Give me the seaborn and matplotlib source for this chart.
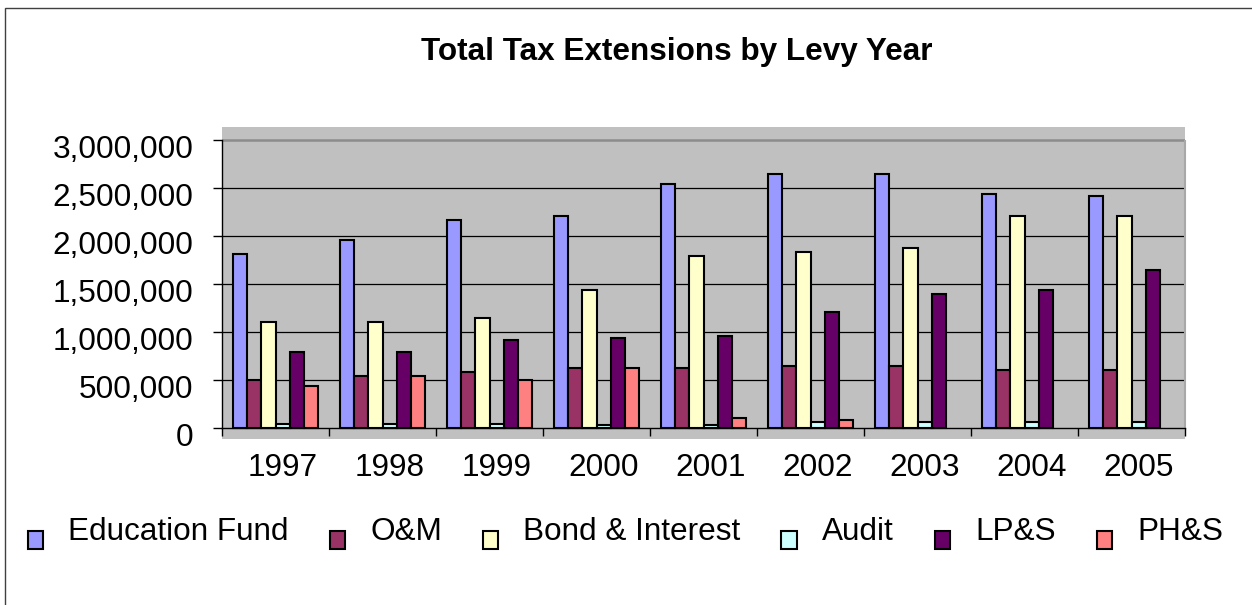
import numpy as np
import pandas as pd
import matplotlib
matplotlib.use("Agg")
import matplotlib.pyplot as plt
import matplotlib.transforms as mtransforms
from matplotlib.patches import Rectangle
from matplotlib.ticker import FuncFormatter
import seaborn as sns

# Levy years and tax extension amounts per fund
years = ["1997", "1998", "1999", "2000", "2001", "2002", "2003", "2004", "2005"]
education_fund = [1812000, 1958000, 2167000, 2208000, 2542000, 2649000, 2649000, 2441000, 2417000]
o_and_m = [500000, 542000, 583000, 625000, 625000, 646000, 646000, 604000, 604000]
bond_interest = [1108000, 1108000, 1149000, 1441000, 1792000, 1833000, 1878000, 2208000, 2208000]
audit = [45000, 45000, 45000, 28000, 28000, 62000, 62000, 62000, 62000]
lp_and_s = [792000, 792000, 917000, 937000, 958000, 1208000, 1399000, 1441000, 1646000]
ph_and_s = [441000, 542000, 500000, 625000, 104000, 83000, np.nan, np.nan, np.nan]

fund_names = ["Education Fund", "O&M", "Bond & Interest", "Audit", "LP&S", "PH&S"]
fund_colors = ["#9999FF", "#993366", "#FFFFCC", "#CCFFFF", "#660066", "#FF8080"]
fund_values = [education_fund, o_and_m, bond_interest, audit, lp_and_s, ph_and_s]

rows = []
for name, vals in zip(fund_names, fund_values):
    for yr, v in zip(years, vals):
        rows.append({"Levy Year": yr, "Fund": name, "Amount": v})
df = pd.DataFrame(rows)

sns.set_style("white")
plt.rcParams["font.family"] = ["Liberation Sans", "DejaVu Sans"]
plt.rcParams["text.color"] = "black"
plt.rcParams["axes.labelcolor"] = "black"
plt.rcParams["xtick.color"] = "black"
plt.rcParams["ytick.color"] = "black"
FS = 22.7

W, H = 1252, 605
fig = plt.figure(figsize=(W / 100, H / 100), dpi=100)
ax = fig.add_axes([222 / W, 166 / H, 963 / W, 312 / H])
ax.set_facecolor("#C0C0C0")

sns.barplot(data=df, x="Levy Year", y="Amount", hue="Fund", order=years,
            hue_order=fund_names, palette=fund_colors, saturation=1,
            errorbar=None, width=0.8, edgecolor="black", linewidth=1.5,
            ax=ax, zorder=2)

ax.set_xlim(-0.5, 8.5)
ax.set_ylim(-114600, 3135000)

# horizontal gridlines on the back wall
yt = list(range(0, 3000001, 500000))
ax.hlines(yt[1:-1], -0.5, 8.5, colors="black", linewidth=0.9, zorder=1)
ax.hlines(3000000, -0.5, 8.5, colors="#8C8C8C", linewidth=1.8, zorder=1)
ax.vlines(8.5, 0, 3000000, colors="#A8A8A8", linewidth=1.5, zorder=1, clip_on=False)

for s in ["top", "right"]:
    ax.spines[s].set_visible(False)
ax.spines["left"].set_bounds(0, 3000000)
ax.spines["bottom"].set_position(("data", 0))
for s in ["left", "bottom"]:
    ax.spines[s].set_color("black")
    ax.spines[s].set_linewidth(1.0)
    ax.spines[s].set_zorder(3)

ax.set_yticks(yt)
ax.yaxis.set_major_formatter(FuncFormatter(lambda v, p: f"{v:,.0f}"))
ax.tick_params(axis="y", direction="out", length=6.5, width=1, pad=14,
               labelsize=FS, colors="black", left=True)
ax.set_xticks(range(len(years)))
ax.set_xticklabels(years)
ax.set_xticks(np.arange(-0.5, len(years), 1), minor=True)
ax.tick_params(axis="x", which="major", length=0, pad=18, labelsize=FS, colors="black")
ax.tick_params(axis="x", which="minor", direction="out", length=6, width=1,
               colors="black", bottom=True)
ax.set_xlabel("")
ax.set_ylabel("")

for lbl in ax.get_xticklabels():
    lbl.set_transform(lbl.get_transform() + mtransforms.ScaledTranslation(7 / 100, 0, fig.dpi_scale_trans))
for lbl in ax.get_yticklabels():
    lbl.set_transform(lbl.get_transform() + mtransforms.ScaledTranslation(0, -7 / 100, fig.dpi_scale_trans))

handles, labels = ax.get_legend_handles_labels()
if ax.get_legend() is not None:
    ax.get_legend().remove()
leg = fig.legend(handles, labels, loc="center", bbox_to_anchor=(0.4995, 1 - 532 / H),
                 ncol=6, frameon=False, fontsize=FS, handlelength=0.48, handleheight=0.52,
                 handletextpad=0.8, columnspacing=1.3, borderpad=0, borderaxespad=0)
# legend keys sit a little below the text line (offset in points)
for h in leg.legend_handles:
    h.set_y(h.get_y() - 8)

fig.text(677 / W, 1 - 52 / H, "Total Tax Extensions by Levy Year", ha="center",
         va="center", fontsize=FS, fontweight="bold", color="black")

# chart frame
fig.patches.append(Rectangle((5 / W, -0.05), 1.2, (1 - 8 / H) + 0.05,
                             transform=fig.transFigure, fill=False,
                             edgecolor="#404040", linewidth=1.0))

fig.savefig("out.png", dpi=100)
